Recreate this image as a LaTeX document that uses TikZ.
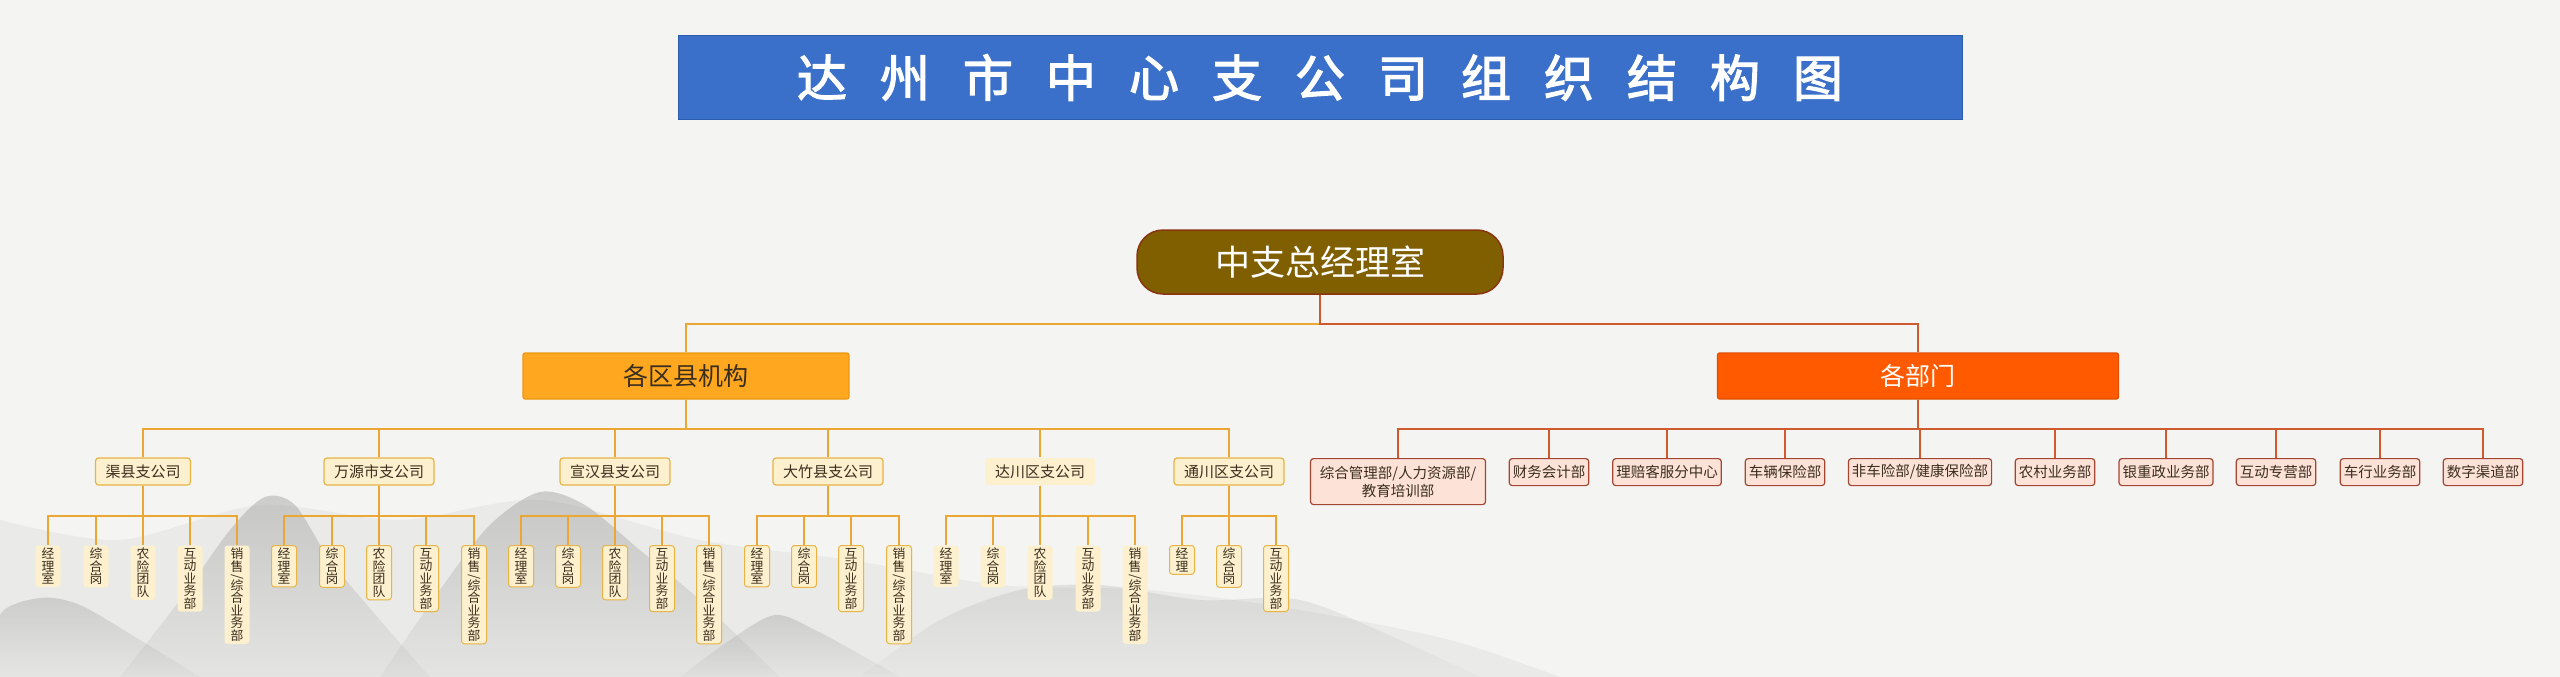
\documentclass[tikz,border=0pt]{standalone}
\usepackage{fontspec}
\usetikzlibrary{fadings}
\setmainfont{Noto Sans CJK SC}
\newfontfamily\titlefont[FakeBold=2.5]{Noto Sans CJK SC}
\definecolor{bgc}{HTML}{F4F4F2}
\definecolor{titleblue}{HTML}{3A70C9}
\definecolor{titledraw}{HTML}{2C5CAE}
\definecolor{rootfill}{HTML}{7F5F00}
\definecolor{rootdraw}{HTML}{8A3410}
\definecolor{lfill}{HTML}{FFA71E}
\definecolor{ldraw}{HTML}{EE9712}
\definecolor{rfill}{HTML}{FF5A00}
\definecolor{rdraw}{HTML}{E04E00}
\definecolor{cream}{HTML}{FDF0CE}
\definecolor{golddraw}{HTML}{E8B447}
\definecolor{gline}{HTML}{EBA634}
\definecolor{rline}{HTML}{CE5A2E}
\definecolor{deptfill}{HTML}{FDE2D8}
\definecolor{deptdraw}{HTML}{A34632}
\definecolor{dtext}{HTML}{3A2E1E}
\definecolor{inkc}{HTML}{7A7A78}
\tikzfading[name=inkfade, top color=transparent!0, bottom color=transparent!85]
\newcommand\vsale{销\\售\\[-3pt]\rotatebox[origin=c]{-90}{/}\\[-3pt]综\\合\\业\\务\\部}
\tikzset{
  titlebox/.style={fill=titleblue,draw=titledraw,line width=1pt,minimum width=1284pt,minimum height=83pt,inner sep=0pt,text=white,font=\titlefont\fontsize{50}{50}\selectfont},
  rootbox/.style={fill=rootfill,draw=rootdraw,line width=1.5pt,rounded corners=26pt,minimum width=366pt,minimum height=64pt,inner sep=0pt,text=white,font=\fontsize{35}{35}\selectfont},
  lbox/.style={fill=lfill,draw=ldraw,line width=1.2pt,rounded corners=2pt,minimum width=326pt,minimum height=46pt,inner sep=0pt,text=dtext,font=\fontsize{25}{25}\selectfont},
  rbox/.style={fill=rfill,draw=rdraw,line width=1.2pt,rounded corners=2pt,minimum width=401pt,minimum height=46pt,inner sep=0pt,text=white,font=\fontsize{25}{25}\selectfont},
  brbox/.style={fill=cream,draw=golddraw,line width=1.2pt,rounded corners=3pt,minimum height=27pt,inner xsep=10pt,inner ysep=0pt,text=dtext,font=\fontsize{15}{15}\selectfont},
  brplain/.style={brbox,draw=none},
  leafbox/.style={anchor=north,fill=cream,draw=golddraw,line width=1pt,rounded corners=3pt,minimum width=25pt,inner xsep=0pt,inner ysep=2.5pt,align=center,text=dtext,font=\fontsize{12.8}{12.5}\selectfont},
  leafplain/.style={leafbox,draw=none},
  deptbox/.style={anchor=north,fill=deptfill,draw=deptdraw,line width=1.2pt,rounded corners=3pt,minimum height=27pt,inner xsep=3.5pt,inner ysep=0pt,align=center,text=dtext,font=\fontsize{14.5}{18}\selectfont},
  gl/.style={draw=gline,line width=2pt},
  rl/.style={draw=rline,line width=2pt},
  ink/.style={fill=inkc,path fading=inkfade},
}
\begin{document}
\begin{tikzpicture}[x=1pt,y=-1pt]
\useasboundingbox (0,0) rectangle (2560,677);
\fill[bgc] (0,0) rectangle (2560,677);
% ink-wash mountains
\fill[inkc,opacity=0.08] plot[smooth] coordinates {(0,520) (120,540) (260,505) (400,520) (540,500) (700,540) (850,560) (1000,585) (1150,590) (1300,610) (1450,640) (1560,677)} -- (0,677) -- cycle;
\fill[ink,opacity=0.32] plot[smooth] coordinates {(120,677) (180,600) (230,530) (265,497) (295,505) (330,560) (380,620) (430,677)} -- cycle;
\fill[ink,opacity=0.32] plot[smooth] coordinates {(380,677) (440,590) (490,525) (540,492) (585,505) (640,550) (700,600) (780,677)} -- cycle;
\fill[ink,opacity=0.26] plot[smooth] coordinates {(0,677) (0,615) (40,598) (80,605) (140,640) (200,677)} -- cycle;
\fill[ink,opacity=0.26] plot[smooth] coordinates {(680,677) (730,640) (775,615) (815,630) (870,660) (900,677)} -- cycle;
\fill[ink,opacity=0.16] plot[smooth] coordinates {(860,677) (940,620) (1020,590) (1100,585) (1200,600) (1300,600) (1400,640) (1480,677)} -- cycle;
% title
\node[titlebox] (title) at (1320,77.5) {达\hspace{33pt}州\hspace{33pt}市\hspace{33pt}中\hspace{33pt}心\hspace{33pt}支\hspace{33pt}公\hspace{33pt}司\hspace{33pt}组\hspace{33pt}织\hspace{33pt}结\hspace{33pt}构\hspace{33pt}图};
% top levels
\node[rootbox] (root) at (1320,262) {中支总经理室};
\node[lbox] (lb) at (686,376) {各区县机构};
\node[rbox] (rb) at (1918,376) {各部门};
\draw[gl] (root.south) -- ++(0,29) -| (lb.north);
\draw[rl] (root.south) -- ++(0,29) -| (rb.north);
% branches
\node[brbox] (b1) at (143,471.5) {渠县支公司};
\node[brbox] (b2) at (379,471.5) {万源市支公司};
\node[brbox] (b3) at (615,471.5) {宣汉县支公司};
\node[brbox] (b4) at (828,471.5) {大竹县支公司};
\node[brplain] (b5) at (1040,471.5) {达川区支公司};
\node[brbox] (b6) at (1229,471.5) {通川区支公司};
\foreach \b in {b1,b2,b3,b4,b5,b6} \draw[gl] (lb.south) -- ++(0,29) -| (\b.north);
% leaves
\node[leafplain] (b1l1) at (48,545) {经\\理\\室};
\node[leafplain] (b1l2) at (96,545) {综\\合\\岗};
\node[leafplain] (b1l3) at (143,545) {农\\险\\团\\队};
\node[leafplain] (b1l4) at (190,545) {互\\动\\业\\务\\部};
\node[leafplain] (b1l5) at (237,545) {\vsale};
\node[leafbox] (b2l1) at (284,545) {经\\理\\室};
\node[leafbox] (b2l2) at (332,545) {综\\合\\岗};
\node[leafbox] (b2l3) at (379,545) {农\\险\\团\\队};
\node[leafbox] (b2l4) at (426,545) {互\\动\\业\\务\\部};
\node[leafbox] (b2l5) at (474,545) {\vsale};
\node[leafbox] (b3l1) at (521,545) {经\\理\\室};
\node[leafbox] (b3l2) at (568,545) {综\\合\\岗};
\node[leafbox] (b3l3) at (615,545) {农\\险\\团\\队};
\node[leafbox] (b3l4) at (662,545) {互\\动\\业\\务\\部};
\node[leafbox] (b3l5) at (709,545) {\vsale};
\node[leafbox] (b4l1) at (757,545) {经\\理\\室};
\node[leafbox] (b4l2) at (804,545) {综\\合\\岗};
\node[leafbox] (b4l3) at (851,545) {互\\动\\业\\务\\部};
\node[leafbox] (b4l4) at (899,545) {\vsale};
\node[leafplain] (b5l1) at (946,545) {经\\理\\室};
\node[leafplain] (b5l2) at (993,545) {综\\合\\岗};
\node[leafplain] (b5l3) at (1040,545) {农\\险\\团\\队};
\node[leafplain] (b5l4) at (1088,545) {互\\动\\业\\务\\部};
\node[leafplain] (b5l5) at (1135,545) {\vsale};
\node[leafbox] (b6l1) at (1182,545) {经\\理};
\node[leafbox] (b6l2) at (1229,545) {综\\合\\岗};
\node[leafbox] (b6l3) at (1276,545) {互\\动\\业\\务\\部};
\foreach \b/\n in {b1/5,b2/5,b3/5,b4/4,b5/5,b6/3}
  \foreach \i in {1,...,\n}
    \draw[gl] (\b.south) -- ++(0,30) -| (\b l\i.north);
% departments
\node[deptbox,minimum width=175pt,minimum height=46pt] (d1) at (1398,458) {综合管理部/人力资源部/\\教育培训部};
\node[deptbox] (d2) at (1549,458) {财务会计部};
\node[deptbox] (d3) at (1667,458) {理赔客服分中心};
\node[deptbox] (d4) at (1785,458) {车辆保险部};
\node[deptbox] (d5) at (1920,458) {非车险部/健康保险部};
\node[deptbox] (d6) at (2055,458) {农村业务部};
\node[deptbox] (d7) at (2166,458) {银重政业务部};
\node[deptbox] (d8) at (2276,458) {互动专营部};
\node[deptbox] (d9) at (2380,458) {车行业务部};
\node[deptbox] (d10) at (2483,458) {数字渠道部};
\foreach \d in {d1,d2,d3,d4,d5,d6,d7,d8,d9,d10}
  \draw[rl] (rb.south) -- ++(0,29) -| (\d.north);
\end{tikzpicture}
\end{document}
